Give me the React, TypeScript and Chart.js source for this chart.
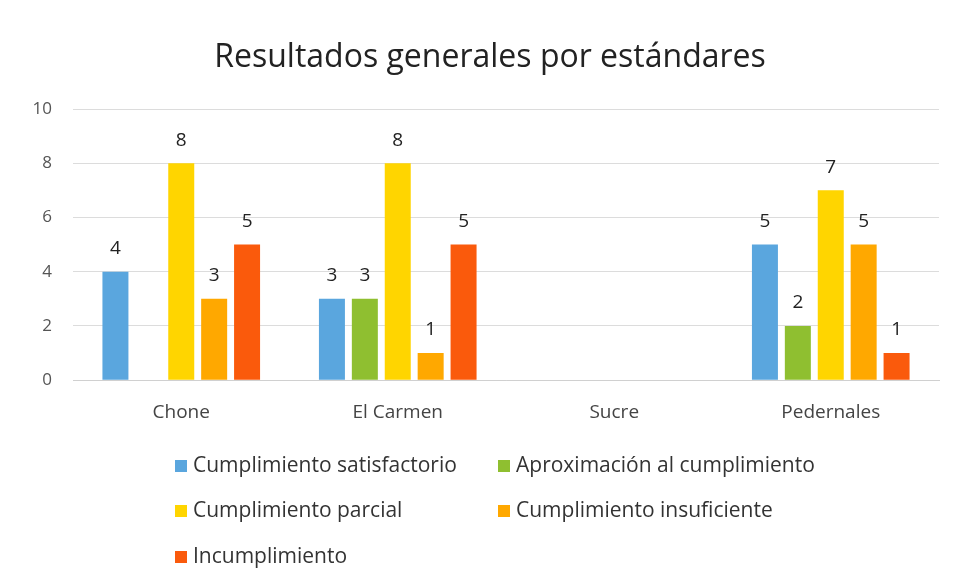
import React, { useEffect, useRef } from "react";
import { Chart, registerables } from "chart.js";

Chart.register(...registerables);

const TITLE = "Resultados generales por estándares";
const CATEGORIES = ["Chone", "El Carmen", "Sucre", "Pedernales"];
const SERIES_NAMES = [
  "Cumplimiento satisfactorio",
  "Aproximación al cumplimiento",
  "Cumplimiento parcial",
  "Cumplimiento insuficiente",
  "Incumplimiento",
];
const SATISFACTORIO = [4, 3, null, 5];
const APROXIMACION = [null, 3, null, 2];
const PARCIAL = [8, 8, null, 7];
const INSUFICIENTE = [3, 1, null, 5];
const INCUMPLIMIENTO = [5, 5, null, 1];
const Y_TICKS = [0, 2, 4, 6, 8, 10];

const COLORS = ["#5aa6de", "#8fbf30", "#ffd500", "#ffa800", "#fa5a0c"];
const FONT = "'Open Sans', Lato, sans-serif";

const valueLabels = {
  id: "valueLabels",
  afterDatasetsDraw(chart: any) {
    const ctx = chart.ctx;
    ctx.save();
    ctx.font = `19px ${FONT}`;
    ctx.fillStyle = "#222";
    ctx.textAlign = "center";
    ctx.textBaseline = "middle";
    chart.data.datasets.forEach((ds: any, i: number) => {
      const meta = chart.getDatasetMeta(i);
      meta.data.forEach((bar: any, j: number) => {
        const v = ds.data[j];
        if (v == null || v === 0) return;
        ctx.fillText(String(v), bar.x, bar.y - 23);
      });
    });
    ctx.restore();
  },
};

const titleAndLegend = {
  id: "titleAndLegend",
  afterDraw(chart: any) {
    const ctx = chart.ctx;
    ctx.save();
    ctx.font = `32px ${FONT}`;
    ctx.fillStyle = "#222";
    ctx.textAlign = "center";
    ctx.textBaseline = "alphabetic";
    ctx.fillText(TITLE, 490, 67);

    ctx.font = `21px ${FONT}`;
    ctx.textBaseline = "middle";
    ctx.textAlign = "left";
    const cols = [175, 498];
    const rows = [466, 511, 557];
    chart.data.datasets.forEach((ds: any, i: number) => {
      const x = cols[i % 2];
      const y = rows[Math.floor(i / 2)];
      ctx.fillStyle = ds.backgroundColor;
      ctx.fillRect(x, y - 6, 12, 12);
      ctx.fillStyle = "#333";
      ctx.fillText(ds.label, x + 18, y);
    });
    ctx.restore();
  },
};

export default function App() {
  const ref = useRef<HTMLCanvasElement | null>(null);
  useEffect(() => {
    if (!ref.current) return;
    const seriesData = [SATISFACTORIO, APROXIMACION, PARCIAL, INSUFICIENTE, INCUMPLIMIENTO];
    const chart = new Chart(ref.current, {
      type: "bar",
      data: {
        labels: CATEGORIES,
        datasets: seriesData.map((d, i) => ({
          label: SERIES_NAMES[i],
          data: d,
          backgroundColor: COLORS[i],
          categoryPercentage: 0.76,
          barPercentage: 0.79,
        })),
      },
      options: {
        animation: false,
        responsive: false,
        maintainAspectRatio: false,
        layout: { padding: { left: 0, right: 17, top: 109, bottom: 135 } },
        plugins: {
          legend: { display: false },
          tooltip: { enabled: false },
          title: { display: false },
        },
        scales: {
          y: {
            min: 0,
            max: 10,
            afterBuildTicks: (s: any) => {
              s.ticks = Y_TICKS.map((v) => ({ value: v }));
            },
            afterFit: (s: any) => {
              s.width = 73;
            },
            ticks: { color: "#555", font: { family: FONT, size: 17 }, padding: 21 },
            grid: { color: "#dcdcdc", drawTicks: false },
            border: { display: false },
          },
          x: {
            ticks: { color: "#444", font: { family: FONT, size: 19 }, padding: 21 },
            grid: { display: false, drawTicks: false },
            border: { color: "#d0d0d0" },
          },
        },
      },
      plugins: [valueLabels, titleAndLegend],
    });
    return () => chart.destroy();
  }, []);
  return (
    <div style={{ position: "fixed", left: 0, top: 0, width: 956, height: 580, background: "#fff" }}>
      <canvas ref={ref} width={956} height={580} style={{ width: 956, height: 580 }} />
    </div>
  );
}
